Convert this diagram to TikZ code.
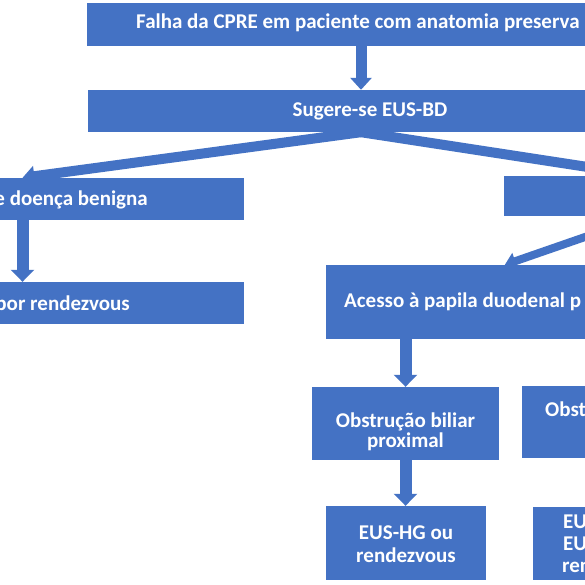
\documentclass[tikz,border=0pt]{standalone}
\usepackage{fontspec}
\setmainfont{Carlito}
\usetikzlibrary{arrows.meta}
\definecolor{boxblue}{HTML}{4472C4}
\pgfdeclarelayer{back}
\pgfdeclarelayer{bg}
\pgfsetlayers{back,bg,main}
\begin{document}
\begin{tikzpicture}[x=1pt,y=-1pt,
  box/.style={fill=boxblue, draw=none, inner sep=0pt},
  lbl/.style={text=white, inner sep=0pt, font=\fontsize{21}{21}\selectfont\bfseries},
  arrT/.style={draw=boxblue, line width=11pt, -{Triangle[width=21pt,length=12pt]}},
  arrV/.style={draw=boxblue, line width=12pt, -{Triangle[width=23pt,length=12pt]}},
  arrD/.style={draw=boxblue, line width=10pt, -{Triangle[width=20pt,length=12pt]}},
  arrS/.style={draw=boxblue, line width=8pt, -{Triangle[width=17pt,length=11pt]}}]
\useasboundingbox (0,0) rectangle (585,585);
\begin{pgfonlayer}{back}
\fill[white] (0,0) rectangle (585,585);
\end{pgfonlayer}
\clip (0,0) rectangle (585,585);

% boxes
\node[box, minimum width=613pt, minimum height=43pt] (b1) at (393.5,24.5) {};
\node[box, minimum width=564pt, minimum height=42pt] (b2) at (370,111) {};
\node[box, minimum width=443pt, minimum height=42pt] (l1) at (22.5,199) {};
\node[box, minimum width=443pt, minimum height=42pt] (l2) at (22.5,303) {};
\node[box, minimum width=282pt, minimum height=40pt] (r1) at (645,196) {};
\node[box, minimum width=574pt, minimum height=74pt] (a1) at (613,302) {};
\node[box, minimum width=187pt, minimum height=73pt] (o1) at (405.5,423.5) {};
\node[box, minimum width=187pt, minimum height=72pt] (o2) at (615.5,422) {};
\node[box, minimum width=160pt, minimum height=74pt] (e1) at (406,543) {};
\node[box, minimum width=160pt, minimum height=73pt] (e2) at (613,543.5) {};

% texts
\node[lbl, anchor=base west] (t1) at (136,29) {Falha da CPRE em paciente com anatomia preserva};
\node[lbl, anchor=base] (t2) at (370,117) {Sugere-se EUS-BD};
\node[lbl, anchor=base east] (t3) at (148,205) {e doença benigna};
\node[lbl, anchor=base east] (t4) at (130,310) {por rendezvous};
\node[lbl, anchor=base west] (t5) at (344,307) {Acesso à papila duodenal p};
\node[lbl, anchor=base] (t6a) at (405.5,427) {Obstrução biliar};
\node[lbl, anchor=base] (t6b) at (405.5,447) {proximal};
\node[lbl, anchor=base west] (t7) at (545,416) {Obst};
\node[lbl, anchor=base] (t8a) at (406,539) {EUS-HG ou};
\node[lbl, anchor=base] (t8b) at (406,562) {rendezvous};
\node[lbl, anchor=base west] (t9a) at (563,528) {EU};
\node[lbl, anchor=base west] (t9b) at (563,550) {EU};
\node[lbl, anchor=base west] (t9c) at (562,572) {ren};

% connector points
\coordinate (j) at ([xshift=-9pt]b2.south);
\coordinate (ak) at ([xshift=179pt]a1.north west);

\begin{pgfonlayer}{bg}
\draw[arrT] (b1.south -| j) -- (b2.north -| j);
\draw[arrD] (j) -- (l1.north);
\draw[arrD] (j) -- (r1.north);
\draw[arrV] (l1.south) -- (l2.north);
\draw[arrS] (r1.south) -- (ak);
\draw[arrV] (a1.south -| o1.north) -- (o1.north);
\draw[arrV] (o1.south) -- (o1.south |- e1.north);
\end{pgfonlayer}
\end{tikzpicture}
\end{document}
